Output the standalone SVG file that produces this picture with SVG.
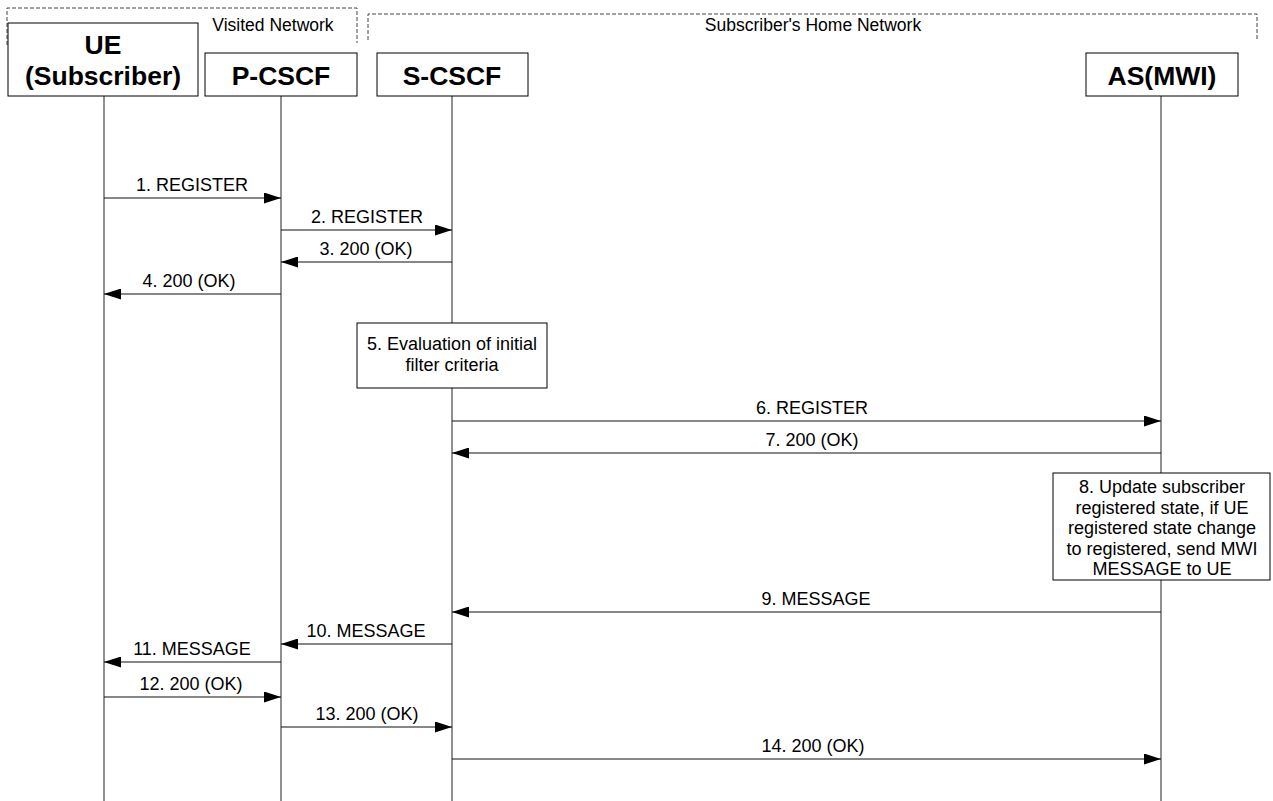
<svg xmlns="http://www.w3.org/2000/svg" width="1273" height="801" viewBox="0 0 1273 801">
<style>
.box{fill:#fff;stroke:#000;stroke-width:1}
.dash{fill:none;stroke:#444;stroke-width:1;stroke-dasharray:4,2}
.life{stroke:#555;stroke-width:1.3}
.msg{stroke:#111;stroke-width:1.1;fill:none}
.t{font-family:"Liberation Sans",Arial,sans-serif;font-size:18px;fill:#000;text-anchor:middle}
.n{font-family:"Liberation Sans",Arial,sans-serif;font-size:17.5px;fill:#000;text-anchor:middle}
.h{font-family:"Liberation Sans",Arial,sans-serif;font-size:26.5px;font-weight:bold;fill:#000;text-anchor:middle}
</style>
<defs>
<marker id="ah" markerWidth="17" markerHeight="11" refX="17" refY="5.5" orient="auto" markerUnits="userSpaceOnUse">
<path d="M0,0 L17,5.5 L0,11 Z" fill="#000"/>
</marker>
</defs>
<rect width="1273" height="801" fill="#fff"/>
<g id="visited-network">
<path class="dash" d="M7,45 L7,8 L357,8 L357,43"/>
<text class="n" x="273" y="31">Visited Network</text>
</g>
<g id="home-network">
<path class="dash" d="M368,40 L368,14 L1257,14 L1257,40"/>
<text class="n" x="813" y="31">Subscriber's Home Network</text>
</g>
<g id="lifelines">
<line class="life" x1="104" y1="96" x2="104" y2="801"/>
<line class="life" x1="281" y1="96" x2="281" y2="801"/>
<line class="life" x1="452" y1="96" x2="452" y2="801"/>
<line class="life" x1="1161" y1="96" x2="1161" y2="801"/>
</g>
<g id="ue">
<rect class="box" x="8" y="23" width="190" height="73"/>
<text class="h" x="103" y="54">UE</text>
<text class="h" x="103" y="85">(Subscriber)</text>
</g>
<g id="pcscf">
<rect class="box" x="205" y="53" width="152" height="43"/>
<text class="h" x="281" y="85">P-CSCF</text>
</g>
<g id="scscf">
<rect class="box" x="377" y="53" width="151" height="43"/>
<text class="h" x="452" y="85">S-CSCF</text>
</g>
<g id="as">
<rect class="box" x="1086" y="53" width="152" height="43"/>
<text class="h" x="1162" y="85">AS(MWI)</text>
</g>
<g id="step5">
<rect class="box" x="357" y="323" width="190" height="65"/>
<text class="t" x="452" y="350">5. Evaluation of initial</text>
<text class="t" x="452" y="371">filter criteria</text>
</g>
<g id="step8">
<rect class="box" x="1053" y="473" width="217" height="107"/>
<text class="t" x="1162" y="493">8. Update subscriber</text>
<text class="t" x="1162" y="514">registered state, if UE</text>
<text class="t" x="1162" y="534">registered state change</text>
<text class="t" x="1162" y="555">to registered, send MWI</text>
<text class="t" x="1162" y="575">MESSAGE to UE</text>
</g>
<g id="connectors">
<line class="msg" x1="104" y1="198" x2="281" y2="198" marker-end="url(#ah)"/>
<text class="t" x="192" y="191">1. REGISTER</text>
<line class="msg" x1="281" y1="230" x2="452" y2="230" marker-end="url(#ah)"/>
<text class="t" x="367" y="223">2. REGISTER</text>
<line class="msg" x1="452" y1="262" x2="281" y2="262" marker-end="url(#ah)"/>
<text class="t" x="366" y="255">3. 200 (OK)</text>
<line class="msg" x1="281" y1="294" x2="104" y2="294" marker-end="url(#ah)"/>
<text class="t" x="189" y="287">4. 200 (OK)</text>
<line class="msg" x1="452" y1="421" x2="1161" y2="421" marker-end="url(#ah)"/>
<text class="t" x="812" y="414">6. REGISTER</text>
<line class="msg" x1="1161" y1="453" x2="452" y2="453" marker-end="url(#ah)"/>
<text class="t" x="812" y="446">7. 200 (OK)</text>
<line class="msg" x1="1161" y1="612" x2="452" y2="612" marker-end="url(#ah)"/>
<text class="t" x="816" y="605">9. MESSAGE</text>
<line class="msg" x1="452" y1="644" x2="281" y2="644" marker-end="url(#ah)"/>
<text class="t" x="366" y="637">10. MESSAGE</text>
<line class="msg" x1="281" y1="662" x2="104" y2="662" marker-end="url(#ah)"/>
<text class="t" x="192" y="655">11. MESSAGE</text>
<line class="msg" x1="104" y1="697" x2="281" y2="697" marker-end="url(#ah)"/>
<text class="t" x="191" y="690">12. 200 (OK)</text>
<line class="msg" x1="281" y1="727" x2="452" y2="727" marker-end="url(#ah)"/>
<text class="t" x="367" y="720">13. 200 (OK)</text>
<line class="msg" x1="452" y1="759" x2="1161" y2="759" marker-end="url(#ah)"/>
<text class="t" x="813" y="752">14. 200 (OK)</text>
</g>
</svg>
